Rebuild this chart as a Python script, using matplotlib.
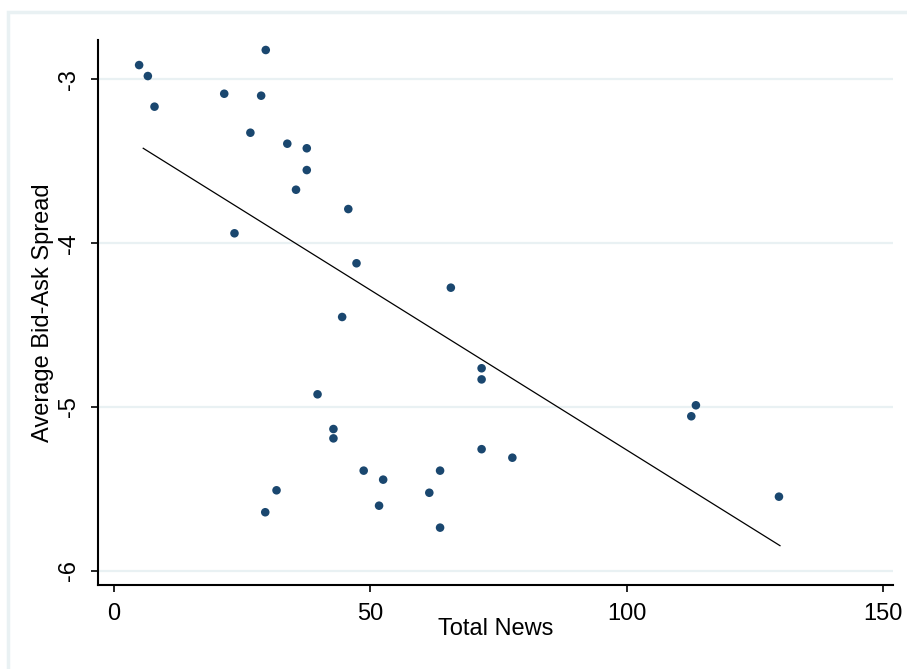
import numpy as np
import matplotlib
matplotlib.use("Agg")
import matplotlib.pyplot as plt
from matplotlib.patches import Rectangle

# values
total_news = [4.9, 6.6, 7.9, 21.5, 28.7, 29.6, 26.6, 33.8, 37.6, 37.6,
              35.5, 45.7, 23.5, 47.3, 65.7, 44.5, 71.7, 71.7, 39.7, 42.8,
              42.8, 113.5, 112.6, 71.7, 77.7, 48.7, 63.6, 52.5, 31.7, 61.5,
              51.7, 29.5, 63.6, 129.7]
bid_ask = [-2.913, -2.980, -3.167, -3.088, -3.100, -2.821, -3.326, -3.393, -3.421, -3.554,
           -3.674, -3.792, -3.940, -4.123, -4.272, -4.451, -4.764, -4.832, -4.923, -5.135,
           -5.192, -4.990, -5.057, -5.258, -5.310, -5.389, -5.389, -5.444, -5.509, -5.524,
           -5.603, -5.643, -5.737, -5.548]

# fitted line as drawn in the picture (end points)
fit_x = [5.7, 129.9]
fit_y = [-3.421, -5.847]

x_ticks = [0, 50, 100, 150]
y_ticks = [-3, -4, -5, -6]

NAVY = "#1a476f"
GRID = "#e9f1f3"

plt.rcParams['font.family'] = ['Liberation Sans', 'DejaVu Sans']


def Draw(x, y):
    fig = plt.figure(figsize=(9.07, 6.69), dpi=100)
    fig.patch.set_facecolor("white")

    # pale outer frame of the graph region
    fig.patches.append(Rectangle((8 / 907, -0.1), 1.2, 1 - 12 / 669 + 0.1,
                                 transform=fig.transFigure, fill=False,
                                 edgecolor=GRID, linewidth=2.5, zorder=0))

    ax = fig.add_axes([0.1084, 0.1256, 0.8762, 0.8146])
    ax.set_xlim(-3.06, 151.95)
    ax.set_ylim(-6.087, -2.76)

    for v in y_ticks:
        ax.axhline(v, color=GRID, linewidth=1.6, zorder=1)

    ax.scatter(x, y, s=38, color=NAVY, edgecolors="none", zorder=3)
    ax.plot(fit_x, fit_y, color="black", linewidth=0.9, zorder=2)

    for side in ["top", "right"]:
        ax.spines[side].set_visible(False)
    for side in ["left", "bottom"]:
        ax.spines[side].set_linewidth(1.5)

    ax.set_xticks(x_ticks)
    ax.set_xticklabels([str(t) for t in x_ticks])
    ax.set_yticks(y_ticks)
    ax.set_yticklabels([str(t) for t in y_ticks], rotation=90, va="center")
    ax.tick_params(axis="both", length=5, width=1.2, labelsize=17)
    ax.tick_params(axis="x", pad=8)
    ax.tick_params(axis="y", pad=8)

    ax.set_xlabel("Total News", fontsize=17)
    ax.set_ylabel("Average Bid-Ask Spread", fontsize=17)
    ax.xaxis.set_label_coords(0.5, -0.06)
    ax.yaxis.set_label_coords(-0.0557, 0.5)

    fig.savefig("out.png", dpi=100)


if __name__ == "__main__":
    Draw(total_news, bid_ask)
